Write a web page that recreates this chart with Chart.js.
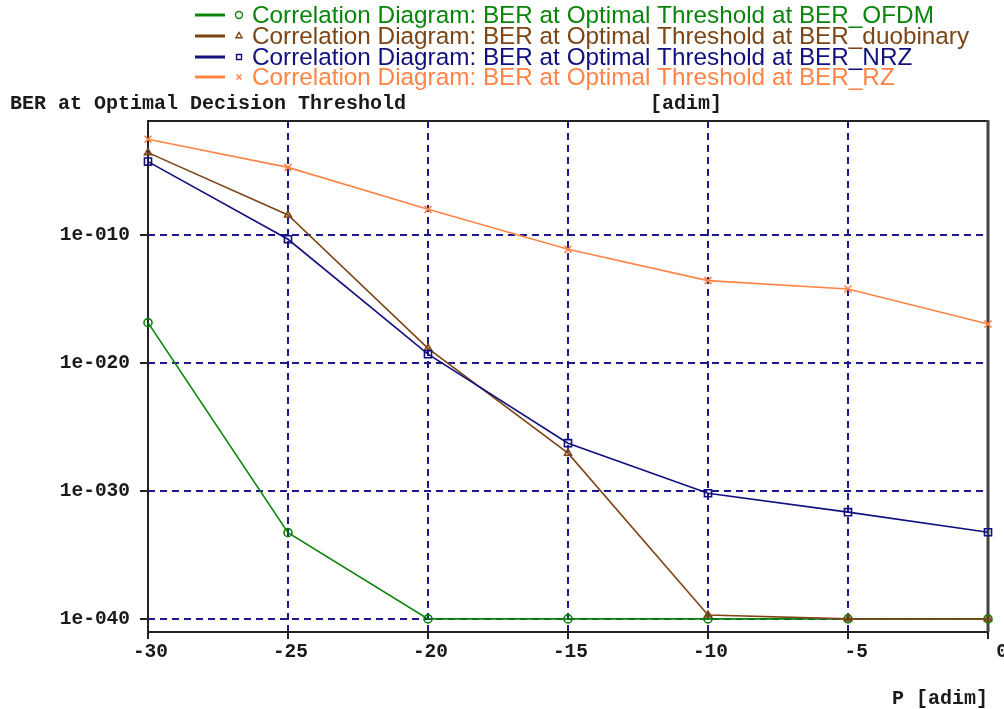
<!DOCTYPE html>
<html>
<head>
<meta charset="utf-8">
<script src="https://cdn.jsdelivr.net/npm/chart.js@4/dist/chart.umd.min.js"></script>
<style>
  body { margin: 0; background: #fff; }
  #wrap { width: 1004px; height: 709px; }
</style>
</head>
<body>
<div id="wrap"><canvas id="berChart" width="1004" height="709"></canvas></div>
<script>
// P [adim] on the x axis
const pValues = [-30, -25, -20, -15, -10, -5, 0];

// BER at optimal decision threshold
const berOFDM = [1.4e-17, 5.5e-34, 1e-40, 1e-40, 1e-40, 1e-40, 1e-40];
const berDuobinary = [2.7e-4, 3.6e-9, 1.4e-19, 8.9e-28, 2e-40, 1e-40, 1e-40];
const berNRZ = [5.4e-5, 4.6e-11, 4.8e-20, 5.4e-27, 6.6e-31, 2.2e-32, 5.9e-34];
const berRZ = [3e-3, 1.9e-5, 1e-8, 7.6e-12, 2.7e-14, 6e-15, 1.1e-17];

const yTickValues = [1e-40, 1e-30, 1e-20, 1e-10];

const seriesLabels = [
    "Correlation Diagram: BER at Optimal Threshold at BER_OFDM",
    "Correlation Diagram: BER at Optimal Threshold at BER_duobinary",
    "Correlation Diagram: BER at Optimal Threshold at BER_NRZ",
    "Correlation Diagram: BER at Optimal Threshold at BER_RZ"
];

const monoBold = "'Liberation Mono', 'Courier New', monospace";
const gridColor = "#1a1a8c";

function toPoints(values) {
    return pValues.map((p, i) => ({ x: p, y: values[i] }));
}

function makeSet(label, values, color, style, radius, order) {
    return {
        label: label,
        data: toPoints(values),
        borderColor: color,
        backgroundColor: "rgba(255,255,255,0)",
        borderWidth: 1.6,
        pointStyle: style,
        pointRadius: radius,
        pointBorderWidth: 1.6,
        pointBorderColor: color,
        pointBackgroundColor: "rgba(255,255,255,0)",
        tension: 0,
        clip: false,
        order: order
    };
}

// legend at the top, line + marker + text
const legendPlugin = {
    id: "topLegend",
    afterDraw(chart) {
        const ctx = chart.ctx;
        const rows = [15, 36, 57, 77];
        ctx.save();
        chart.data.datasets.forEach((ds, i) => {
            const y = rows[i];
            ctx.strokeStyle = ds.borderColor;
            ctx.lineWidth = 3;
            ctx.beginPath();
            ctx.moveTo(195, y);
            ctx.lineTo(225, y);
            ctx.stroke();
            ctx.fillStyle = "#fff";
            ctx.lineWidth = 1.4;
            Chart.helpers.drawPoint(ctx, {
                pointStyle: ds.pointStyle, radius: 3.5, borderWidth: 1.4, rotation: 0
            }, 239, y);
            ctx.font = "24.3px 'Liberation Sans', Arial, sans-serif";
            ctx.fillStyle = ds.borderColor;
            ctx.textAlign = "left";
            ctx.textBaseline = "middle";
            ctx.fillText(ds.label, 252, y + 1);
        });
        ctx.restore();
    }
};

// axis titles and frame
const framePlugin = {
    id: "frame",
    beforeDatasetsDraw(chart) {
        const { ctx, chartArea: a } = chart;
        ctx.save();
        ctx.strokeStyle = "#222";
        ctx.lineWidth = 2;
        ctx.beginPath();
        ctx.moveTo(a.left, a.bottom);
        ctx.lineTo(a.left, a.top);
        ctx.lineTo(a.right, a.top);
        ctx.moveTo(a.left, a.bottom);
        ctx.lineTo(a.right, a.bottom);
        ctx.stroke();
        ctx.strokeStyle = "#444";
        ctx.lineWidth = 3;
        ctx.beginPath();
        ctx.moveTo(a.right, a.top - 1);
        ctx.lineTo(a.right, a.bottom);
        ctx.stroke();
        ctx.restore();
    },
    afterDraw(chart) {
        const ctx = chart.ctx;
        ctx.save();
        ctx.font = "bold 20px " + monoBold;
        ctx.fillStyle = "#1a1a1a";
        ctx.textBaseline = "middle";
        ctx.textAlign = "left";
        ctx.fillText("BER at Optimal Decision Threshold", 10, 104);
        ctx.fillText("[adim]", 650, 104);
        ctx.fillText("P [adim]", 892, 699);
        ctx.restore();
    }
};

new Chart(document.getElementById("berChart"), {
    type: "line",
    data: {
        datasets: [
            makeSet(seriesLabels[0], berOFDM, "#0a840a", "circle", 4, 4),
            makeSet(seriesLabels[1], berDuobinary, "#7c4515", "triangle", 4, 3),
            makeSet(seriesLabels[2], berNRZ, "#10107e", "rect", 5, 2),
            makeSet(seriesLabels[3], berRZ, "#ff8446", "crossRot", 5, 1)
        ]
    },
    options: {
        responsive: false,
        animation: false,
        layout: { padding: { top: 121, right: 16, left: 0, bottom: 0 } },
        plugins: { legend: { display: false }, tooltip: { enabled: false } },
        scales: {
            x: {
                type: "linear",
                min: -30,
                max: 0,
                afterFit: s => { s.height = 77; },
                ticks: {
                    stepSize: 5,
                    align: "end",
                    labelOffset: 20,
                    padding: 1,
                    maxRotation: 0,
                    color: "#1a1a1a",
                    font: { family: monoBold, size: 19.5, weight: "bold" },
                    callback: v => String(v)
                },
                grid: {
                    color: c => (c.tick && (c.tick.value === -30 || c.tick.value === 0)) ? "rgba(0,0,0,0)" : gridColor,
                    lineWidth: 2,
                    tickColor: "#222",
                    tickWidth: 2,
                    tickLength: 7
                },
                border: { display: false, dash: [7, 5] }
            },
            y: {
                type: "logarithmic",
                min: 9.5e-42,
                max: 8e-2,
                afterFit: s => { s.width = 148; },
                afterBuildTicks: s => { s.ticks = yTickValues.map(v => ({ value: v })); },
                ticks: {
                    padding: 10,
                    color: "#1a1a1a",
                    font: { family: monoBold, size: 19.5, weight: "bold" },
                    callback: v => {
                        const e = Math.round(Math.log10(v));
                        return "1e-" + String(-e).padStart(3, "0");
                    }
                },
                grid: {
                    color: gridColor,
                    lineWidth: 2,
                    tickColor: "#222",
                    tickWidth: 2,
                    tickLength: 8
                },
                border: { display: false, dash: [7, 5] }
            }
        }
    },
    plugins: [framePlugin, legendPlugin]
});
</script>
</body>
</html>
